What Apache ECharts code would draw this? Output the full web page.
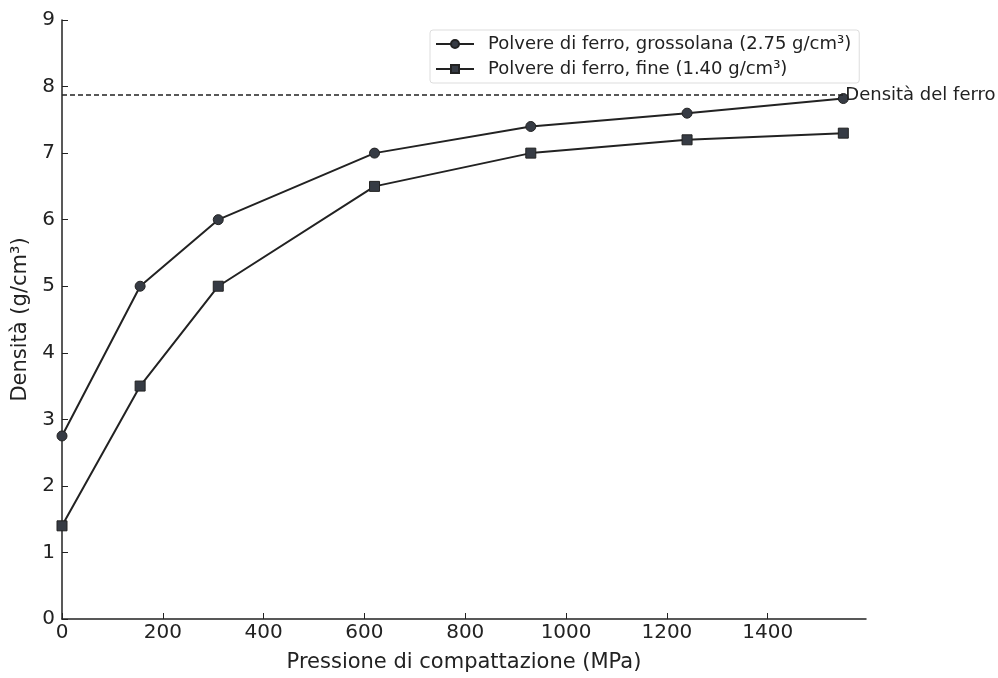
<!DOCTYPE html>
<html>
<head>
<meta charset="utf-8">
<script src="https://cdn.jsdelivr.net/npm/echarts@6/dist/echarts.min.js"></script>
<style>
html,body{margin:0;padding:0;background:#fff;}
#chart{width:998px;height:678px;}
</style>
</head>
<body>
<div id="chart"></div>
<script>
var pressure = [0, 155, 310, 620, 930, 1240, 1550];
var coarse = [2.75, 5.0, 6.0, 7.0, 7.4, 7.6, 7.82];
var fine = [1.4, 3.5, 5.0, 6.5, 7.0, 7.2, 7.3];
var ironDensity = 7.87;
var xTicks = [0, 200, 400, 600, 800, 1000, 1200, 1400];
var yTicks = [0, 1, 2, 3, 4, 5, 6, 7, 8, 9];
var coarseName = 'Polvere di ferro, grossolana (2.75 g/cm³)';
var fineName = 'Polvere di ferro, fine (1.40 g/cm³)';
var refLabel = 'Densità del ferro';

function pairs(xs, ys){ return xs.map(function(x,i){ return [x, ys[i]]; }); }

var font = 'DejaVu Sans';
var chart = echarts.init(document.getElementById('chart'));
chart.setOption({
  animation: false,
  backgroundColor: '#fff',
  textStyle: {fontFamily: font},
  grid: {left: 62, right: 132, top: 20, bottom: 56, containLabel: false},
  legend: {
    orient: 'vertical', left: 430, top: 30,
    itemWidth: 38, itemHeight: 10, itemGap: 7,
    padding: [5, 8, 5, 5],
    borderColor: '#ddd', borderWidth: 1, borderRadius: 3,
    textStyle: {fontFamily: font, fontSize: 18, color: '#222', padding: [0, 0, 0, 9]},
    data: [coarseName, fineName]
  },
  xAxis: {
    type: 'value', min: 0, max: 1595, interval: 200,
    name: 'Pressione di compattazione (MPa)', nameLocation: 'middle', nameGap: 33,
    nameTextStyle: {fontFamily: font, fontSize: 21, color: '#222'},
    axisLine: {show: true, lineStyle: {color: '#222', width: 1.5}},
    axisTick: {show: true, inside: true, length: 6, customValues: xTicks, lineStyle: {color: '#222'}},
    axisLabel: {fontFamily: font, fontSize: 20, color: '#222', margin: 4, customValues: xTicks,
                formatter: function(v){ return String(v); }},
    splitLine: {show: false}
  },
  yAxis: {
    type: 'value', min: 0, max: 9, interval: 1,
    name: 'Densità (g/cm³)', nameLocation: 'middle', nameGap: 31,
    nameTextStyle: {fontFamily: font, fontSize: 21, color: '#222'},
    axisLine: {show: true, lineStyle: {color: '#222', width: 1.5}},
    axisTick: {show: true, inside: true, length: 6, customValues: yTicks, lineStyle: {color: '#222'}},
    axisLabel: {fontFamily: font, fontSize: 20, color: '#222', margin: 7, customValues: yTicks,
                formatter: function(v){ return String(v); }},
    splitLine: {show: false}
  },
  series: [
    {
      name: coarseName, type: 'line', data: pairs(pressure, coarse),
      symbol: 'circle', symbolSize: 10,
      lineStyle: {color: '#222', width: 2},
      itemStyle: {color: '#363b44', borderColor: '#222', borderWidth: 1},
      z: 3,
      markLine: {
        silent: true, symbol: ['none', 'none'],
        lineStyle: {color: '#222', type: [5, 3], width: 1.5},
        label: {show: true, position: 'end', distance: 2, formatter: refLabel,
                fontFamily: font, fontSize: 18, color: '#222'},
        data: [[{coord: [0, ironDensity]}, {coord: [1550, ironDensity]}]]
      }
    },
    {
      name: fineName, type: 'line', data: pairs(pressure, fine),
      symbol: 'rect', symbolSize: 10,
      lineStyle: {color: '#222', width: 2},
      itemStyle: {color: '#363b44', borderColor: '#222', borderWidth: 1},
      z: 3
    }
  ]
});
</script>
</body>
</html>
